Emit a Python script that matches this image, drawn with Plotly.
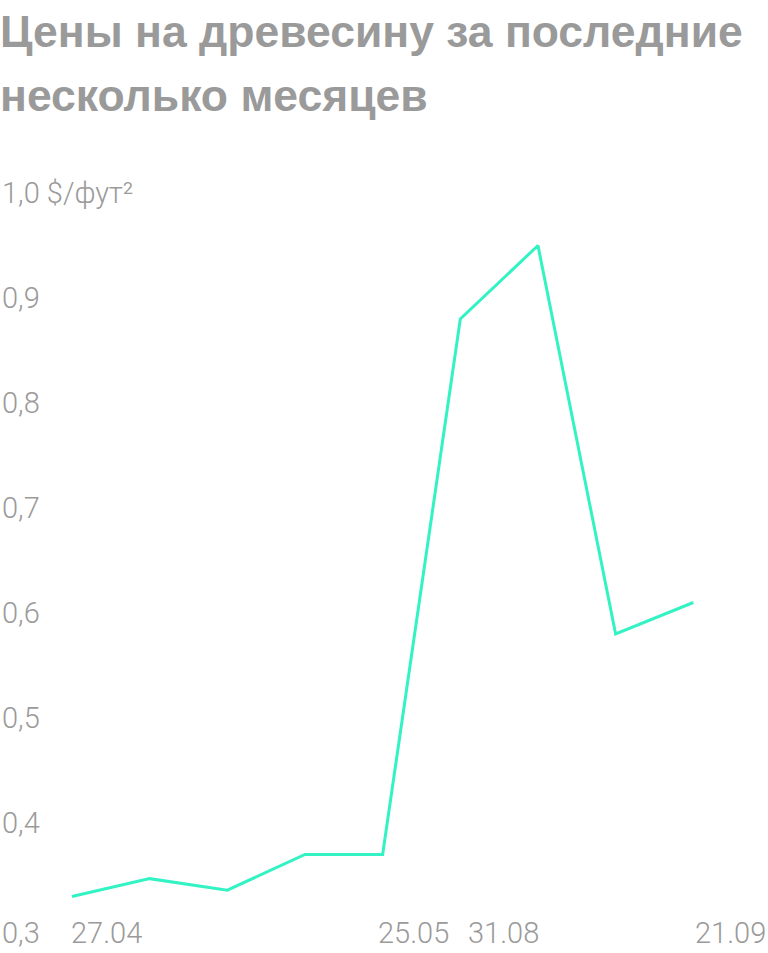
import plotly.graph_objects as go

# Data
point_idx = [0, 1, 2, 3, 4, 5, 6, 7, 8]
prices = [0.33, 0.347, 0.336, 0.37, 0.37, 0.88, 0.95, 0.58, 0.61]
x_tick_idx = [0, 4, 5, 8]
x_tick_text = ["27.04", "25.05", "31.08", "21.09"]
y_tick_vals = [0.3, 0.4, 0.5, 0.6, 0.7, 0.8, 0.9, 1.0]
y_tick_text = ["0,3", "0,4", "0,5", "0,6", "0,7", "0,8", "0,9", "1,0 $/фут²"]
title_lines = ["Цены на древесину за последние", "несколько месяцев"]

# style: small horizontal nudges of the date labels (px)
x_label_nudge = [-3, -7, 6, 0]

W, H = 768, 953
GREY = "#9a9a9a"
LINE = "#33f2c4"
LABEL_FONT = dict(family="Roboto", size=29, color=GREY, weight=300)

fig = go.Figure()
fig.add_trace(go.Scatter(
    x=point_idx, y=prices, mode="lines",
    line=dict(color=LINE, width=3),
    hoverinfo="skip", showlegend=False,
))

# pixel mapping: 0.3 -> 928, 1.0 -> 193 ; x: idx0 -> 72, idx8 -> 693
scale = (928 - 193) / 0.7
ymin = 0.3 - (H - 928) / scale
ymax = 1.0 + 193 / scale
step = (693.3 - 72) / 8
xmin = 0 - 72 / step
xmax = 8 + (W - 693.3) / step

fig.update_layout(
    width=W, height=H,
    margin=dict(l=0, r=0, t=0, b=0),
    paper_bgcolor="white", plot_bgcolor="white",
    font=dict(family="Roboto", color=GREY),
    xaxis=dict(range=[xmin, xmax], visible=False, fixedrange=True),
    yaxis=dict(range=[ymin, ymax], visible=False, fixedrange=True),
)

# y-axis labels (left, inside)
for v, t in zip(y_tick_vals, y_tick_text):
    fig.add_annotation(
        text=t, xref="paper", yref="y", x=0, y=v,
        yshift=-5 if v == min(y_tick_vals) else 0,
        xanchor="left", yanchor="middle", showarrow=False, font=LABEL_FONT,
    )

# x-axis labels (left-aligned at their points, bottom row)
for xi, t, dx in zip(x_tick_idx, x_tick_text, x_label_nudge):
    fig.add_annotation(
        text=t, xref="x", yref="y", x=xi, y=min(y_tick_vals), yshift=-5, xshift=dx,
        xanchor="left", yanchor="middle", showarrow=False, font=LABEL_FONT,
    )

for t, yc in zip(title_lines, [31, 96]):
    fig.add_annotation(
        text=t, xref="paper", yref="paper", x=0, y=1 - yc / H,
        xanchor="left", yanchor="middle", showarrow=False, xshift=-2,
        font=dict(family="Liberation Sans", size=44.5, color=GREY, weight=700),
    )

fig.write_html("out.html", config={"displayModeBar": False},
               post_script="document.body.style.margin='0';")
